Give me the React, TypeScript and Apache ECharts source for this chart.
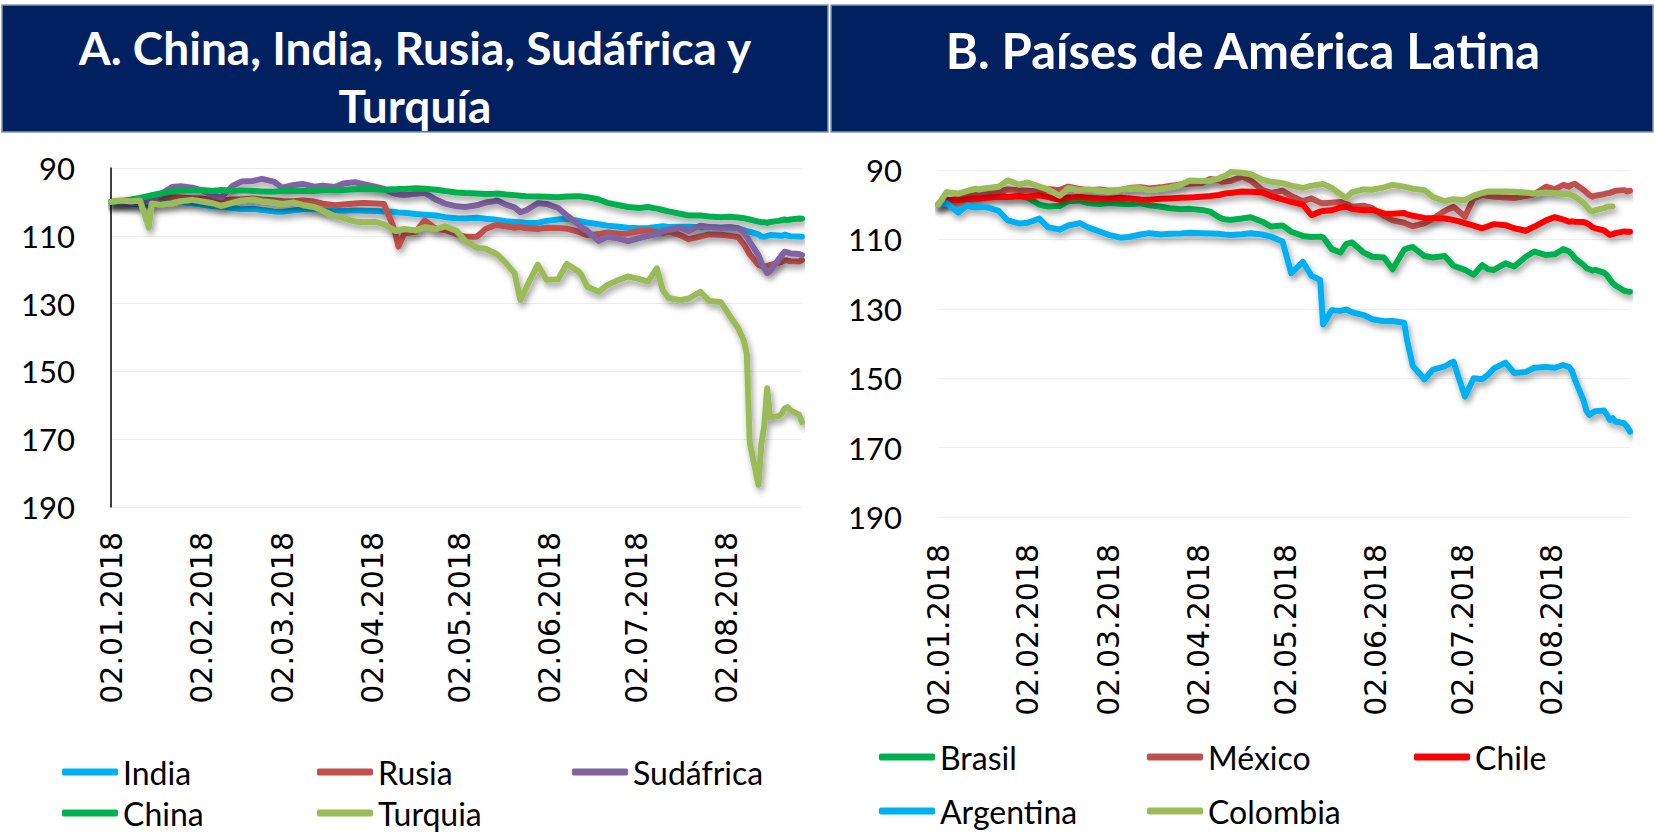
import React, { useEffect, useRef } from "react";
import * as echarts from "echarts";

const dates = [
  "2018-01-02","2018-01-05","2018-01-09","2018-01-12","2018-01-15","2018-01-16","2018-01-19","2018-01-23","2018-01-26","2018-01-30",
  "2018-02-02","2018-02-06","2018-02-09","2018-02-13","2018-02-16","2018-02-20","2018-02-23","2018-02-27","2018-03-02","2018-03-06",
  "2018-03-09","2018-03-13","2018-03-16","2018-03-20","2018-03-23","2018-03-27","2018-03-30","2018-04-03","2018-04-06","2018-04-09",
  "2018-04-10","2018-04-11","2018-04-13","2018-04-17","2018-04-20","2018-04-24","2018-04-27","2018-05-01","2018-05-04","2018-05-08",
  "2018-05-11","2018-05-14","2018-05-15","2018-05-18","2018-05-21","2018-05-23","2018-05-25","2018-05-29","2018-06-01","2018-06-05",
  "2018-06-08","2018-06-12","2018-06-13","2018-06-15","2018-06-19","2018-06-22","2018-06-26","2018-06-29","2018-07-03","2018-07-06",
  "2018-07-09","2018-07-11","2018-07-13","2018-07-17","2018-07-20","2018-07-24","2018-07-27","2018-07-31","2018-08-03","2018-08-06",
  "2018-08-08","2018-08-09","2018-08-10","2018-08-13","2018-08-14","2018-08-15","2018-08-16","2018-08-17","2018-08-20","2018-08-21",
  "2018-08-22","2018-08-23","2018-08-24","2018-08-27","2018-08-28","2018-08-29",
];

const tickDates = ["2018-01-02","2018-02-02","2018-03-02","2018-04-02","2018-05-02","2018-06-02","2018-07-02","2018-08-02"];
const endA = "2018-08-28";
const endB = "2018-08-29";
const yTicks = { min: 90, max: 190, step: 20 };

// ---- Panel A ----
const india = [
  100, 100.3, 100.6, 100.8, 100.9, 100.8, 100.5, 100.2, 100.0, 100.4,
  100.8, 101.3, 101.5, 101.8, 102.2, 102.0, 102.4, 102.8, 102.9, 102.5,
  102.2, 102.1, 102.4, 102.5, 102.6, 102.5, 102.6, 102.7, 102.8, 102.9,
  103.0, 103.1, 103.2, 103.6, 103.8, 104.0, 104.5, 104.8, 104.9, 104.7,
  105.0, 105.2, 105.3, 105.7, 105.9, 106.0, 106.2, 106.2, 105.6, 105.2,
  105.0, 105.6, 105.8, 106.1, 106.6, 107.0, 107.3, 107.6, 107.8, 107.7,
  107.4, 107.2, 107.4, 107.3, 107.3, 107.5, 107.4, 107.6, 107.5, 107.8,
  108.3, 108.6, 108.8, 109.6, 110.2, 110.3, 110.0, 109.8, 109.9, 110.0,
  109.7, 109.9, 110.1, 110.2, 110.3, null,
];
const rusia = [
  100, 99.8, 99.5, 99.2, 98.8, 98.8, 98.6, 98.5, 98.7, 98.9,
  99.0, 99.4, 99.6, 99.3, 99.2, 99.0, 99.3, 99.5, 99.7, 99.8,
  99.6, 99.9, 100.5, 101.0, 100.8, 100.5, 100.3, 100.5, 100.6, 106.8,
  109.5, 113.2, 109.3, 108.8, 105.5, 108.0, 108.3, 109.5, 110.3, 110.3,
  108.0, 107.0, 106.8, 107.2, 107.6, 107.4, 107.8, 108.0, 107.6, 107.7,
  107.9, 108.8, 109.2, 109.8, 109.5, 109.0, 109.4, 109.3, 108.6, 108.4,
  108.9, 109.2, 108.7, 109.8, 111.0, 110.2, 109.6, 109.7, 110.0, 110.4,
  112.5, 114.0, 115.5, 118.6, 118.9, 119.1, 118.9, 118.6, 118.0, 117.7,
  117.2, 117.3, 117.5, 117.6, 117.2, null,
];
const sudafrica = [
  100, 100.1, 100.4, 100.2, 99.8, 99.3, 97.8, 95.6, 95.4, 95.8,
  96.5, 98.0, 98.6, 95.2, 94.0, 93.8, 93.2, 94.0, 95.8, 95.0,
  94.7, 95.5, 95.2, 95.6, 94.6, 94.2, 94.8, 95.5, 96.2, 97.4,
  97.6, 97.8, 98.0, 97.6, 97.3, 99.4, 100.5, 101.3, 101.5, 101.0,
  100.2, 99.8, 99.6, 100.8, 101.6, 103.0, 102.5, 100.4, 100.6, 101.8,
  104.0, 106.6, 107.5, 108.5, 111.5, 110.3, 110.8, 111.6, 110.7, 110.0,
  109.5, 108.6, 108.2, 107.6, 108.6, 107.0, 107.4, 107.6, 107.5, 107.8,
  109.0, 110.3, 111.8, 115.7, 118.0, 119.5, 121.0, 120.5, 116.8, 115.8,
  114.7, 114.9, 115.2, 115.4, 115.7, null,
];
const china = [
  100, 99.8, 99.3, 98.8, 98.2, 98.0, 97.5, 96.9, 96.7, 96.6,
  96.5, 96.8, 96.5, 96.8, 96.6, 96.8, 96.9, 97.0, 96.8, 96.8,
  96.7, 96.8, 96.6, 96.4, 96.5, 96.3, 96.2, 96.3, 96.4, 96.3,
  96.3, 96.2, 96.2, 96.0, 96.1, 96.4, 96.8, 97.2, 97.4, 97.5,
  97.7, 97.6, 97.5, 97.8, 98.0, 98.2, 98.3, 98.4, 98.5, 98.6,
  98.4, 98.3, 98.4, 98.6, 99.3, 100.3, 101.0, 101.5, 101.8, 101.5,
  102.0, 102.4, 102.8, 103.5, 104.0, 104.0, 104.3, 104.5, 104.4, 104.6,
  104.8, 105.0, 105.2, 105.8, 106.0, 106.0, 106.2, 105.9, 105.6, 105.4,
  105.2, 105.4, 105.2, 104.9, 105.0, null,
];
const turquia = [
  100, 99.6, 99.8, 99.6, 107.6, 100.5, 100.8, 100.4, 99.8, 99.4,
  99.8, 100.4, 101.2, 100.2, 99.6, 99.3, 99.8, 100.2, 100.6, 100.2,
  100.9, 101.5, 102.6, 104.2, 104.8, 105.8, 106.0, 105.9, 106.6, 108.0,
  108.6, 108.3, 108.0, 108.4, 107.4, 108.0, 107.2, 108.5, 111.5, 113.5,
  113.8, 115.0, 115.5, 118.0, 121.0, 129.0, 125.3, 118.5, 123.0, 122.8,
  118.3, 120.5, 121.5, 125.0, 126.5, 124.5, 123.0, 122.0, 122.8, 123.5,
  119.6, 126.0, 128.3, 129.0, 128.5, 126.5, 129.2, 129.5, 133.5, 137.2,
  141.0, 145.0, 171.0, 183.5, 171.5, 166.0, 155.0, 163.5, 163.2, 162.5,
  161.0, 160.5, 161.5, 162.8, 165.0, null,
];

// ---- Panel B ----
const brasil = [
  100, 99.0, 98.6, 98.3, 98.0, 97.6, 97.3, 97.0, 97.8, 97.4,
  98.0, 100.0, 100.5, 100.4, 99.0, 98.8, 99.6, 99.8, 99.5, 99.7,
  99.9, 99.6, 100.2, 100.6, 101.0, 101.3, 101.2, 101.5, 102.0, 103.6,
  104.0, 104.2, 104.4, 104.0, 103.6, 104.9, 106.3, 106.0, 107.8, 109.0,
  109.3, 109.2, 109.4, 112.8, 113.8, 111.3, 110.9, 113.8, 115.0, 115.2,
  118.6, 113.0, 112.6, 112.2, 114.8, 115.2, 114.8, 117.6, 118.8, 120.2,
  117.4, 118.6, 118.8, 116.9, 117.8, 115.0, 113.5, 114.5, 114.3, 112.8,
  113.5, 114.3, 115.5, 117.4, 118.3, 118.6, 119.0, 118.8, 119.6, 120.3,
  121.5, 122.6, 123.3, 124.8, 125.0, 125.1,
];
const mexico = [
  100, 99.0, 98.2, 97.7, 97.0, 96.8, 96.2, 96.0, 95.6, 95.8,
  96.0, 96.2, 95.5, 95.8, 94.8, 95.5, 95.8, 95.6, 96.0, 95.8,
  95.2, 95.0, 95.3, 95.0, 94.6, 94.2, 94.0, 93.8, 92.6, 93.0,
  93.4, 93.3, 93.2, 91.9, 93.0, 95.8, 96.6, 96.0, 97.5, 99.0,
  98.2, 99.4, 99.6, 99.4, 99.2, 99.8, 100.6, 100.3, 101.0, 103.2,
  104.5, 105.2, 105.6, 106.2, 105.4, 104.0, 101.8, 100.6, 103.4, 98.2,
  97.2, 97.5, 97.7, 97.9, 98.1, 97.5, 97.0, 94.8, 95.6, 94.3,
  94.8, 94.2, 94.0, 95.8, 96.5, 97.2, 97.7, 97.4, 97.0, 96.7,
  96.6, 96.3, 96.0, 95.8, 96.2, 96.0,
];
const chile = [
  null, 98.6, 98.8, 98.4, 98.2, 98.3, 98.0, 97.7, 97.8, 97.6,
  97.7, 97.3, 97.8, 98.6, 97.9, 97.8, 98.0, 98.2, 98.3, 98.0,
  98.2, 98.5, 98.6, 98.3, 98.2, 98.0, 97.9, 97.7, 97.5, 97.2,
  97.0, 96.8, 96.6, 96.2, 96.3, 96.5, 97.5, 98.5, 99.2, 100.0,
  103.0, 102.0, 101.8, 101.6, 100.8, 100.6, 101.2, 101.6, 101.5, 102.5,
  102.6, 102.4, 102.8, 103.2, 103.8, 103.9, 104.0, 104.4, 105.3, 106.0,
  106.8, 106.2, 105.6, 105.9, 106.8, 107.5, 106.3, 104.5, 103.6, 104.3,
  104.9, 104.8, 104.9, 105.0, 105.3, 105.8, 106.5, 106.8, 107.4, 108.1,
  108.7, 108.5, 108.2, 107.7, 107.8, 107.8,
];
const argentina = [
  100, 99.5, 102.3, 100.3, 100.8, 100.6, 100.8, 101.8, 104.5, 105.4,
  105.2, 104.0, 106.5, 107.2, 106.0, 105.3, 106.6, 107.8, 108.7, 109.5,
  109.3, 108.6, 108.2, 108.6, 108.4, 108.3, 108.1, 108.2, 108.3, 108.4,
  108.5, 108.6, 108.7, 108.5, 108.2, 108.6, 109.2, 110.6, 119.8, 116.5,
  120.5, 121.7, 134.5, 130.4, 130.6, 130.2, 131.0, 131.8, 133.0, 133.6,
  133.5, 134.0, 139.0, 146.5, 150.3, 147.5, 146.6, 145.2, 155.3, 150.0,
  150.3, 149.0, 147.2, 145.5, 148.5, 148.2, 147.0, 146.8, 147.0, 146.2,
  146.8, 148.0, 150.5, 156.5, 159.5, 160.6, 160.0, 159.5, 159.3, 160.5,
  162.0, 161.5, 162.5, 163.0, 164.0, 165.4,
];
const colombia = [
  100, 96.4, 96.8, 96.0, 95.4, 95.6, 95.2, 94.8, 93.0, 94.2,
  93.6, 94.8, 95.6, 97.4, 95.2, 95.8, 95.6, 95.9, 96.2, 95.7,
  95.3, 95.2, 95.8, 95.4, 95.0, 94.2, 93.0, 93.2, 93.0, 92.5,
  92.0, 91.8, 90.6, 90.8, 91.2, 92.8, 93.4, 93.8, 94.5, 95.2,
  94.5, 94.2, 94.0, 95.2, 97.0, 98.0, 96.4, 95.6, 95.7, 95.0,
  94.3, 94.8, 95.0, 95.4, 95.8, 97.8, 99.0, 98.4, 98.7, 97.4,
  96.6, 96.2, 96.2, 96.2, 96.3, 96.5, 96.8, 96.5, 96.6, 96.9,
  97.0, 97.3, 97.7, 99.5, 100.5, 101.5, 102.0, 101.6, 101.0, 100.6,
  100.5, 100.5, null, null, null, null,
];

const panelA = [
  { name: "India", color: "#00B0F0", values: india },
  { name: "Rusia", color: "#C0504D", values: rusia },
  { name: "Sudáfrica", color: "#8064A2", values: sudafrica },
  { name: "China", color: "#00B050", values: china },
  { name: "Turquia", color: "#9BBB59", values: turquia },
];
const panelB = [
  { name: "Brasil", color: "#00B050", values: brasil },
  { name: "México", color: "#C0504D", values: mexico },
  { name: "Chile", color: "#FF0000", values: chile },
  { name: "Argentina", color: "#00B0F0", values: argentina },
  { name: "Colombia", color: "#9BBB59", values: colombia },
];

const titleA1 = "A. China, India, Rusia, Sudáfrica y";
const titleA2 = "Turquía";
const titleB = "B. Países de América Latina";

const SANS = "Lato, 'Open Sans', sans-serif";

function ts(s: string) {
  const [y, m, d] = s.split("-").map(Number);
  return new Date(y, m - 1, d).getTime();
}
function fmtDate(v: number) {
  const d = new Date(v);
  const p = (n: number) => String(n).padStart(2, "0");
  return `${p(d.getDate())}.${p(d.getMonth() + 1)}.${d.getFullYear()}`;
}

export default function App() {
  const ref = useRef<HTMLDivElement>(null);
  useEffect(() => {
    if (!ref.current) return;
    const chart = echarts.init(ref.current, undefined, { renderer: "svg" });

    const mkX = (gi: number, max: string, margin: number) => ({
      type: "value",
      gridIndex: gi,
      min: ts(dates[0]),
      max: ts(max),
      axisLine: { show: false },
      axisTick: { show: false },
      splitLine: { show: false },
      axisLabel: {
        customValues: tickDates.map(ts),
        formatter: (v: number) => fmtDate(v),
        rotate: 90,
        margin,
        fontFamily: "'DejaVu Sans', Verdana, sans-serif",
        fontSize: 30,
        color: "#000",
      },
    });
    const mkY = (gi: number, showLine: boolean) => ({
      type: "value",
      gridIndex: gi,
      inverse: true,
      min: yTicks.min,
      max: yTicks.max,
      interval: yTicks.step,
      axisLine: { show: showLine, lineStyle: { color: "#000", width: 1.5 } },
      axisTick: { show: false },
      axisLabel: { fontFamily: SANS, fontSize: 31, color: "#000", margin: 36 },
      splitLine: { show: true, lineStyle: { color: "#eeeeee", width: 1 } },
    });

    const mkSeries = (list: any[], idx: number) =>
      list.map((s) => ({
        name: s.name,
        type: "line",
        xAxisIndex: idx,
        yAxisIndex: idx,
        showSymbol: false,
        symbol: "none",
        connectNulls: false,
        data: dates.map((d, i) => [ts(d), s.values[i]]),
        lineStyle: {
          color: s.color,
          width: 6,
          cap: "round",
          join: "round",
          shadowColor: "rgba(0,0,0,0.4)",
          shadowBlur: 6,
          shadowOffsetX: 2,
          shadowOffsetY: 4,
        },
        itemStyle: { color: s.color },
        emphasis: { disabled: true },
      }));

    const legendPos = [
      { name: "India", left: 62, top: 755 },
      { name: "Rusia", left: 317, top: 755 },
      { name: "Sudáfrica", left: 572, top: 755 },
      { name: "China", left: 62, top: 796 },
      { name: "Turquia", left: 317, top: 796 },
      { name: "Brasil", left: 879, top: 740 },
      { name: "México", left: 1147, top: 740 },
      { name: "Chile", left: 1414, top: 740 },
      { name: "Argentina", left: 879, top: 794 },
      { name: "Colombia", left: 1147, top: 794 },
    ];

    const headerText = (text: string, x: number, y: number, size: number) => ({
      type: "text",
      x,
      y,
      style: {
        text,
        fill: "#ffffff",
        fontFamily: SANS,
        fontWeight: "bold",
        fontSize: size,
        align: "center",
        verticalAlign: "middle",
      },
    });

    chart.setOption({
      animation: false,
      backgroundColor: "#ffffff",
      grid: [
        { left: 111, right: 853, top: 168, bottom: 327 },
        { left: 938, right: 25, top: 170, bottom: 317 },
      ],
      xAxis: [mkX(0, endA, 25), mkX(1, endB, 27)],
      yAxis: [mkY(0, true), mkY(1, false)],
      legend: legendPos.map((l) => ({
        data: [l.name],
        left: l.left,
        top: l.top,
        padding: 0,
        icon: "roundRect",
        itemWidth: 56,
        itemHeight: 7,
        selectedMode: false,
        textStyle: { fontFamily: SANS, fontSize: 32, color: "#000", lineHeight: 34 },
      })),
      graphic: [
        {
          type: "rect",
          shape: { x: 2, y: 5, width: 826, height: 127 },
          style: { fill: "#002060", stroke: "#8497B0", lineWidth: 1.5 },
        },
        {
          type: "rect",
          shape: { x: 831, y: 5, width: 822, height: 127 },
          style: { fill: "#002060", stroke: "#8497B0", lineWidth: 1.5 },
        },
        headerText(titleA1, 415, 47, 46),
        headerText(titleA2, 415, 105, 46),
        headerText(titleB, 1243, 50, 49),
      ],
      series: [...mkSeries(panelA, 0), ...mkSeries(panelB, 1)],
    });

    return () => chart.dispose();
  }, []);

  return (
    <div
      ref={ref}
      style={{ position: "absolute", left: 0, top: 0, width: 1655, height: 834 }}
    />
  );
}
